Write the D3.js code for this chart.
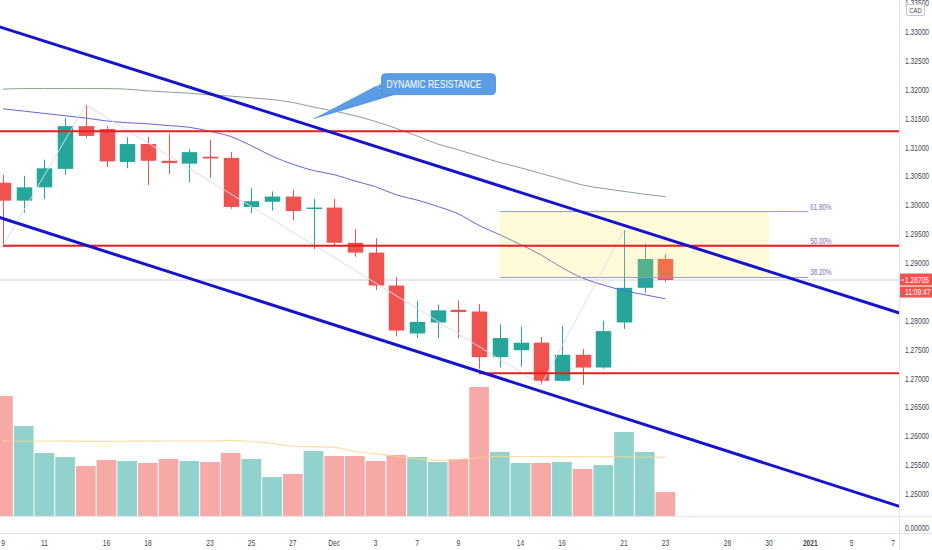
<!DOCTYPE html>
<html>
<head>
<meta charset="utf-8">
<script src="https://cdn.jsdelivr.net/npm/d3@7"></script>
<style>
  body { margin: 0; background: #fff; }
  svg { display: block; font-family: "Liberation Sans", Arial, sans-serif; }
</style>
</head>
<body>
<svg id="chart" width="932" height="550"></svg>
<script>
// USDCAD daily, Nov 9 - Dec 23 2020
const dates = ["2020-11-09","2020-11-10","2020-11-11","2020-11-12","2020-11-13","2020-11-16","2020-11-17","2020-11-18","2020-11-19","2020-11-20",
  "2020-11-23","2020-11-24","2020-11-25","2020-11-26","2020-11-27","2020-11-30","2020-12-01","2020-12-02","2020-12-03","2020-12-04",
  "2020-12-07","2020-12-08","2020-12-09","2020-12-10","2020-12-11","2020-12-14","2020-12-15","2020-12-16","2020-12-17","2020-12-18",
  "2020-12-21","2020-12-22","2020-12-23"]
const open  = [1.3039,1.3008,1.3031,1.3063,1.3137,1.3132,1.3075,1.3106,1.3077,1.3072,1.3084,1.3082,1.2997,1.3006,1.3015,1.2994,1.2996,1.2935,1.2918,1.2861,1.2778,1.2797,1.2819,1.2816,1.2737,1.2749,1.2762,1.2696,1.2741,1.2719,1.2797,1.2857,1.2907]
const high  = [1.3053,1.3051,1.3079,1.3151,1.3174,1.3137,1.3118,1.3118,1.3124,1.3097,1.3113,1.3092,1.3030,1.3024,1.3027,1.3011,1.3011,1.2959,1.2943,1.2876,1.2834,1.2828,1.2835,1.2829,1.2794,1.2790,1.2772,1.2791,1.2751,1.2800,1.2957,1.2934,1.2915]
const low   = [1.2930,1.2987,1.3011,1.3053,1.3116,1.3066,1.3064,1.3035,1.3054,1.3040,1.3047,1.2994,1.2987,1.2991,1.2974,1.2924,1.2930,1.2911,1.2853,1.2773,1.2770,1.2770,1.2770,1.2717,1.2719,1.2721,1.2689,1.2695,1.2689,1.2717,1.2786,1.2848,1.2867]
const close = [1.3008,1.3031,1.3064,1.3137,1.3120,1.3076,1.3106,1.3077,1.3073,1.3092,1.3081,1.2997,1.3007,1.3015,1.2990,1.2996,1.2935,1.2918,1.2861,1.2783,1.2798,1.2818,1.2815,1.2737,1.2770,1.2762,1.2696,1.2741,1.2719,1.2782,1.2857,1.2907,1.28705]
const volume = [120,90,63,59,50,56,55,53,57,55,54,63,57,39,42,65,60,60,55,61,59,54,57,129,64,53,53,54,47,51,84,64,24]
const volMA  = [75,75,75,74.8,74.7,74.7,74.8,74.9,75,75,75,75.6,74.5,72.5,70,69.3,68.7,64.5,62.4,59.5,57.2,55.5,56.5,58.2,59.7,59.5,59.4,59.3,59.3,59.3,59.2,59,58.7]
const ma50  = [1.3167,1.3163,1.3159,1.3155,1.3151,1.3146,1.3143,1.3141,1.3138,1.3135,1.3128,1.3119,1.3103,1.3085,1.3071,1.3060,1.3053,1.3042,1.3032,1.3018,1.3009,1.2998,1.2985,1.2965,1.2949,1.2932,1.2914,1.2892,1.2874,1.2862,1.2852,1.2845,1.2838]
const ma200 = [1.3201,1.3202,1.3202,1.3202,1.3202,1.3202,1.3201,1.3198,1.3196,1.3194,1.3191,1.3189,1.3186,1.3183,1.3178,1.3170,1.3163,1.3155,1.3145,1.3133,1.3120,1.3106,1.3096,1.3085,1.3074,1.3065,1.3055,1.3045,1.3035,1.3029,1.3024,1.3019,1.3015]

const priceTicks = [1.335,1.33,1.325,1.32,1.315,1.31,1.305,1.30,1.295,1.29,1.285,1.28,1.275,1.27,1.265,1.26,1.255,1.25]
const tickDates  = ["2020-11-09","2020-11-11","2020-11-16","2020-11-18","2020-11-23","2020-11-25","2020-11-27","2020-12-01","2020-12-03","2020-12-07",
  "2020-12-09","2020-12-14","2020-12-16","2020-12-21","2020-12-23","2020-12-28","2020-12-30","2021-01-01","2021-01-05","2021-01-07"]
const tickLabels = ["9","11","16","18","23","25","27","Dec","3","7","9","14","16","21","23","28","30","2021","5","7"]

// drawings
const hLevels = [1.3128, 1.2930, 1.2709]
const hLevelFrom = [null, "2020-11-09", "2020-12-10"]
const upperChannel = [["2020-11-09", 1.3307], ["2021-01-07", 1.2817]]
const lowerChannel = [["2020-11-09", 1.2977], ["2021-01-07", 1.2482]]
const fibLabels = ["61.80%", "50.00%", "38.20%"]
const fibPrices = [1.2989, 1.2930, 1.2875]
const fibBox = ["2020-12-11", "2020-12-30"]
const fibLineEnd = "2021-01-01"
const zigzag = [["2020-11-09", 1.2930], ["2020-11-13", 1.3174], ["2020-12-15", 1.2689], ["2020-12-21", 1.2957]]
const callout = {date: "2020-11-30", price: 1.3150, text: "DYNAMIC RESISTANCE"}
const lastTime = "11:09:47"

let W = 932, H = 550,
    plotRight = 899,
    paneBottom = 516,
    axisTop = 533,
    SQ = 0.74;   // labels in the reference are horizontally squeezed

// weekday calendar for the time axis (forex keeps every weekday)
let days = []
for (let d = new Date(Date.UTC(2020, 10, 9)); d <= new Date(Date.UTC(2021, 0, 8)); d.setUTCDate(d.getUTCDate() + 1)) {
    let wd = d.getUTCDay()
    if (wd > 0 && wd < 6) days.push(d.toISOString().slice(0, 10))
}

let x = d3.scalePoint().domain(days).range([3, 3 + 20.7 * (days.length - 1)]),
    y = d3.scaleLinear().domain([1.25, 1.33]).range([494, 32]),
    yv = d3.scaleLinear().domain([0, 140]).range([paneBottom, paneBottom - 140]);
let step = x.step()

const GREEN = "#26a69a", RED = "#ef5350"

let svg = d3.select("#chart")
svg.append("rect").attr("width", W).attr("height", H).attr("fill", "#fff")
svg.append("defs").append("clipPath").attr("id", "plot")
    .append("rect").attr("x", 0).attr("y", 0).attr("width", plotRight).attr("height", paneBottom)

let g = {
    vol: svg.append("g").attr("clip-path", "url(#plot)"),
    price: svg.append("g").attr("clip-path", "url(#plot)"),
    draw: svg.append("g").attr("clip-path", "url(#plot)"),
    axis: svg.append("g")
}

function sqText(sel, px, py, str, anchor) {
    return sel.append("text")
        .attr("transform", `translate(${px},${py}) scale(${SQ},1)`)
        .attr("text-anchor", anchor || "start")
        .text(str)
}

// ---- volume
let idx = d3.range(dates.length)
g.vol.selectAll("rect")
    .data(idx)
    .join("rect")
    .attr("x", i => x(dates[i]) - step / 2 + 0.5)
    .attr("width", step - 1)
    .attr("y", i => yv(volume[i]))
    .attr("height", i => yv(0) - yv(volume[i]))
    .attr("fill", i => close[i] >= open[i] ? GREEN : RED)
    .attr("opacity", 0.5)
g.vol.append("path")
    .attr("d", d3.line().x(i => x(dates[i])).y(i => yv(volMA[i])).curve(d3.curveMonotoneX)(idx))
    .attr("fill", "none").attr("stroke", "#fcd690").attr("stroke-width", 1.2).attr("opacity", 0.8)

// last price line
g.price.append("line")
    .attr("x1", 0).attr("x2", plotRight)
    .attr("y1", y(close[close.length - 1])).attr("y2", y(close[close.length - 1]))
    .attr("stroke", "#cfcfcf").attr("stroke-width", 1)

// ---- candles
let bodyW = 15.5
let candle = g.price.selectAll(".candle").data(idx).join("g").attr("class", "candle")
candle.append("line")
    .attr("x1", i => Math.round(x(dates[i])) + 0.5).attr("x2", i => Math.round(x(dates[i])) + 0.5)
    .attr("y1", i => y(high[i])).attr("y2", i => y(low[i]))
    .attr("stroke", i => close[i] >= open[i] ? GREEN : RED).attr("stroke-width", 1)
candle.append("rect")
    .attr("x", i => Math.round(x(dates[i])) + 0.5 - bodyW / 2)
    .attr("width", bodyW)
    .attr("y", i => y(Math.max(open[i], close[i])))
    .attr("height", i => Math.max(1.5, Math.abs(y(open[i]) - y(close[i]))))
    .attr("fill", i => close[i] >= open[i] ? GREEN : RED)

// ---- moving averages
let maLine = arr => d3.line().x(i => x(dates[i])).y(i => y(arr[i])).curve(d3.curveMonotoneX)(idx)
g.price.append("path").attr("d", maLine(ma200))
    .attr("fill", "none").attr("stroke", "#8aa08e").attr("stroke-width", 1)
g.price.append("path").attr("d", maLine(ma50))
    .attr("fill", "none").attr("stroke", "#6464dc").attr("stroke-width", 1)

// ---- drawings
// fib zone
g.draw.append("rect")
    .attr("x", x(fibBox[0])).attr("width", x(fibBox[1]) - x(fibBox[0]))
    .attr("y", y(fibPrices[0])).attr("height", y(fibPrices[2]) - y(fibPrices[0]))
    .attr("fill", "rgb(255,235,59)").attr("opacity", 0.2)
fibPrices.forEach((p, k) => {
    g.draw.append("line")
        .attr("x1", x(fibBox[0])).attr("x2", x(fibLineEnd) - 2)
        .attr("y1", y(p)).attr("y2", y(p))
        .attr("stroke", "#9496c8").attr("stroke-width", 1)
    sqText(g.draw, x(fibLineEnd), y(p) - 2, fibLabels[k])
        .attr("font-size", 8.5).attr("fill", "#7274b0")
})

// zigzag anchor line
g.draw.append("path")
    .attr("d", d3.line().x(d => x(d[0])).y(d => y(d[1]))(zigzag))
    .attr("fill", "none").attr("stroke", "#dcdcee").attr("stroke-width", 1)

// horizontal levels
hLevels.forEach((p, k) => {
    g.draw.append("line")
        .attr("x1", hLevelFrom[k] ? x(hLevelFrom[k]) : 0).attr("x2", plotRight)
        .attr("y1", y(p)).attr("y2", y(p))
        .attr("stroke", "#ee1b1b").attr("stroke-width", 2)
})

// channel, extended across the pane
function extended(a) {
    let x0 = x(a[0][0]), y0 = y(a[0][1]), x1 = x(a[1][0]), y1 = y(a[1][1])
    let k = (y1 - y0) / (x1 - x0)
    return [[-5, y0 + k * (-5 - x0)], [plotRight + 5, y0 + k * (plotRight + 5 - x0)]]
}
;[upperChannel, lowerChannel].forEach(c => {
    g.draw.append("path")
        .attr("d", d3.line()(extended(c)))
        .attr("stroke", "#1414d0").attr("stroke-width", 3).attr("fill", "none")
})

// callout
let tx = x(callout.date), ty = y(callout.price)
let bx = tx + 68, by = ty - 45, bw = 114, bh = 21
g.draw.append("path")
    .attr("d", d3.line()([[bx - 7, by + bh - 8], [bx + 12, by + bh], [tx, ty]]))
    .attr("fill", "#5a9de4").attr("stroke", "#4a8cd8").attr("stroke-width", 0.8)
g.draw.append("rect")
    .attr("x", bx).attr("y", by).attr("width", bw).attr("height", bh).attr("rx", 4)
    .attr("fill", "#5a9de4").attr("stroke", "#4a8cd8").attr("stroke-width", 0.8)
g.draw.append("path")
    .attr("d", d3.line()([[bx - 6, by + bh - 8], [bx + 12, by + bh - 1], [bx + 2, by + bh - 1], [bx + 2, by + bh - 12]]))
    .attr("fill", "#5a9de4")
g.draw.append("text")
    .attr("x", bx + 5).attr("y", by + 14)
    .attr("font-size", 10.5).attr("fill", "#fff")
    .attr("textLength", 95).attr("lengthAdjust", "spacingAndGlyphs")
    .text(callout.text)

// ---- axes / frame
g.axis.append("line").attr("x1", plotRight + 0.5).attr("x2", plotRight + 0.5).attr("y1", 0).attr("y2", H)
    .attr("stroke", "#e0e3eb")
g.axis.append("line").attr("x1", 0).attr("x2", W).attr("y1", paneBottom + 0.5).attr("y2", paneBottom + 0.5)
    .attr("stroke", "#e0e3eb")
g.axis.append("line").attr("x1", 0).attr("x2", W).attr("y1", axisTop + 0.5).attr("y2", axisTop + 0.5)
    .attr("stroke", "#e0e3eb")

let yAxis = g.axis.append("g").attr("font-size", 9).attr("fill", "#434651")
priceTicks.forEach(p => sqText(yAxis, 905, y(p) + 3, d3.format(".5f")(p)))
sqText(yAxis, 905, 531, d3.format(".5f")(0))

// currency tag
g.axis.append("rect").attr("x", 906.5).attr("y", 4.5).attr("width", 18).attr("height", 11)
    .attr("fill", "#fff").attr("stroke", "#c8cad2").attr("rx", 1.5)
sqText(g.axis, 915.5, 13, "CAD", "middle").attr("font-size", 8).attr("fill", "#434651")

// last price tag
let lp = y(close[close.length - 1])
g.axis.append("rect").attr("x", 900).attr("y", lp - 6.5).attr("width", 32).attr("height", 12).attr("fill", RED)
g.axis.append("rect").attr("x", 900).attr("y", lp + 6.5).attr("width", 32).attr("height", 11).attr("fill", RED)
g.axis.append("line").attr("x1", 901).attr("x2", 904).attr("y1", lp).attr("y2", lp).attr("stroke", "#fff")
sqText(g.axis, 905, lp + 3, d3.format(".5f")(close[close.length - 1])).attr("font-size", 9).attr("fill", "#fff")
sqText(g.axis, 905, lp + 15, lastTime).attr("font-size", 9).attr("fill", "#fff")

// time axis
let xAxis = g.axis.append("g").attr("font-size", 9).attr("fill", "#434651")
tickDates.forEach((d, k) => {
    sqText(xAxis, x(d), 546, tickLabels[k], "middle")
        .attr("font-weight", tickLabels[k] === "2021" ? "bold" : null)
})
</script>
</body>
</html>
